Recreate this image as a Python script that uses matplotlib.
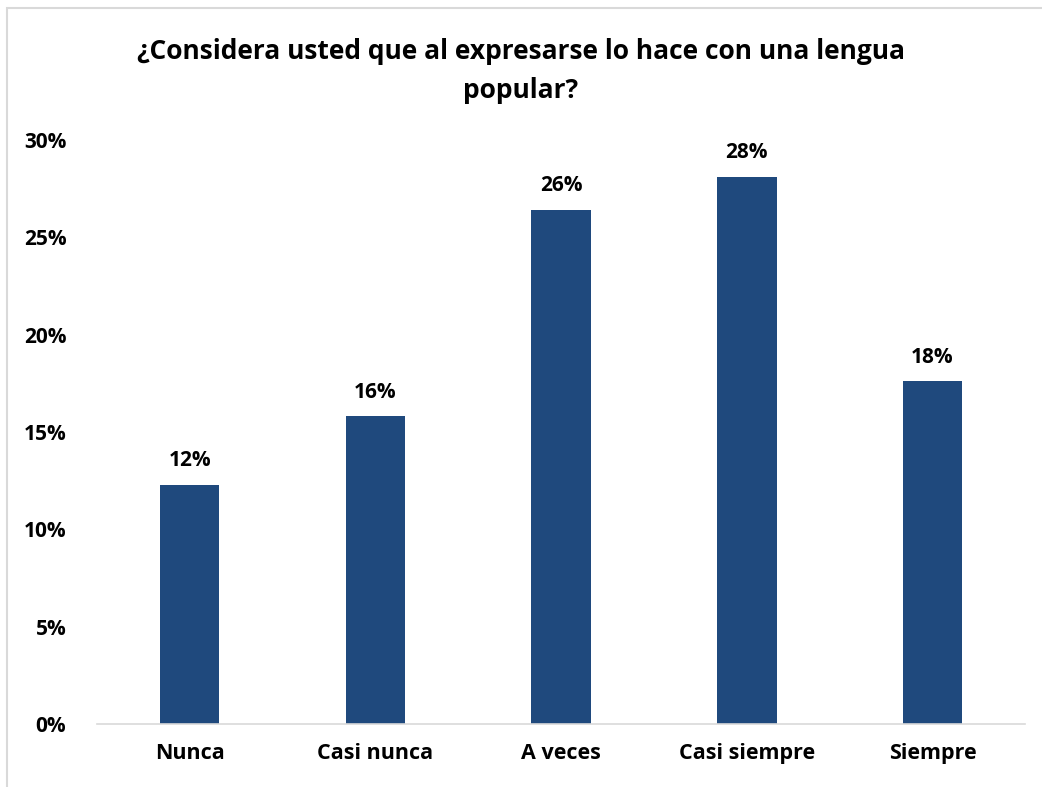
import matplotlib.pyplot as plt
from matplotlib.patches import Rectangle

categories = ["Nunca", "Casi nunca", "A veces", "Casi siempre", "Siempre"]
values = [12.3, 15.8, 26.4, 28.1, 17.6]
labels = ["12%", "16%", "26%", "28%", "18%"]
yticks = [0, 5, 10, 15, 20, 25, 30]
ytick_labels = ["0%", "5%", "10%", "15%", "20%", "25%", "30%"]

plt.rcParams['font.family'] = ['Open Sans', 'DejaVu Sans']

fig = plt.figure(figsize=(10.42, 7.87), dpi=100)
ax = fig.add_axes([0.093, 0.080, 0.891, 0.742])

x = range(len(categories))
ax.bar(x, values, width=0.32, color='#1F497D')
for xi, v, lab in zip(x, values, labels):
    ax.annotate(lab, (xi, v), xytext=(0, 10), textcoords='offset points',
                ha='center', va='bottom', fontsize=15, fontweight='bold')

ax.set_xlim(-0.5, len(categories) - 0.5)
ax.set_ylim(0, 30)
ax.set_yticks(yticks)
ax.set_yticklabels(ytick_labels, fontsize=15, fontweight='bold')
ax.set_xticks(list(x))
ax.set_xticklabels(categories, fontsize=15.5, fontweight='bold')
ax.tick_params(axis='both', length=0)
ax.tick_params(axis='y', pad=22)
ax.tick_params(axis='x', pad=14)

for s in ['top', 'right', 'left']:
    ax.spines[s].set_visible(False)
ax.spines['bottom'].set_color('#D9D9D9')
ax.spines['bottom'].set_linewidth(1.2)

fig.text(0.5, 0.91, "¿Considera usted que al expresarse lo hace con una lengua\npopular?",
         ha='center', va='center', fontsize=19, fontweight='bold', linespacing=1.6)

# chart border
fig.patches.append(Rectangle((7 / 1042, -0.01), 1.02, 1 - 8 / 787 + 0.01,
                             transform=fig.transFigure, fill=False,
                             edgecolor='#D9D9D9', linewidth=1.5))

plt.savefig("out.png", dpi=100)
